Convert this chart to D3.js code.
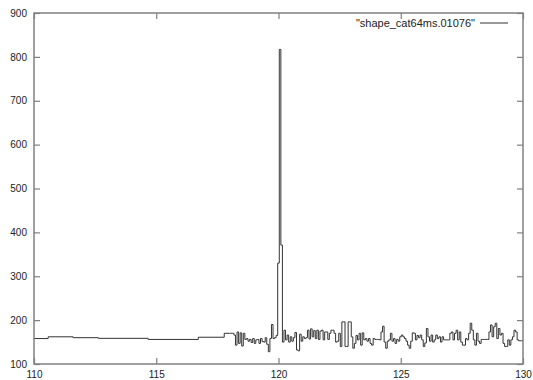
<!DOCTYPE html>
<html>
<head>
<meta charset="utf-8">
<script src="https://cdn.jsdelivr.net/npm/d3@7"></script>
<style>
  html, body { margin: 0; padding: 0; background: #fff; }
  svg { display: block; }
  text { font-family: "Liberation Sans", Arial, sans-serif; }
</style>
</head>
<body>
<svg id="chart" width="533" height="380"></svg>
<script>
// ---- data ----
const seriesName = '"shape_cat64ms.01076"';
const xTicks = [110, 115, 120, 125, 130];
const yTicks = [100, 200, 300, 400, 500, 600, 700, 800, 900];
// coarse segment start times and levels before the fine-binned part
const coarseTimes  = [110, 110.58, 111.6, 112.63, 114.67, 116.72, 117.78];
const coarseValues = [158, 162, 160, 158.5, 156, 161, 170];
// fine 64 ms bins
const fineStart = 117.984;
const binWidth = 0.064;
const fineValues = [
  170,170,170,166,143,173,147,171,141,170,
  156,158,152,156,149,158,147,155,156,147,158,151,
  150,160,145,128,158,190,158,160,165,
  330,817,371,
  150,177,155,166,150,162,152,160,172,132,130,168,152,162,158,160,177,157,180,162,176,158,177,156,175,
  177,155,173,173,156,170,177,177,170,150,152,170,140,196,196,140,140,196,196,162,
  136,147,165,155,170,143,171,155,158,152,158,147,143,158,156,156,156,155,173,186,
  150,136,152,155,170,152,158,147,156,152,162,166,162,158,152,143,136,152,171,170,155,165,
  160,
  166,155,140,148,181,162,152,166,150,155,166,158,162,150,162,155,155,155,
  155,170,173,155,170,177,155,173,150,143,
  143,158,155,170,193,177,155,143,170,152,147,156,156,156,
  156,156,173,189,162,185,193,158,181,166,170,147,140,
  140,155,143,155,162,177,173,155,153,153,153
];

// ---- layout ----
const mLeft = 34, mRight = 523, mTop = 13, mBottom = 364;
const svg = d3.select("#chart");
const x = d3.scaleLinear().domain([110, 130]).range([mLeft, mRight]);
const y = d3.scaleLinear().domain([100, 900]).range([mBottom, mTop]);

// build step points
const pts = coarseTimes.map((t, i) => [t, coarseValues[i]]);
fineValues.forEach((v, i) => pts.push([fineStart + i * binWidth, v]));
pts.push([fineStart + fineValues.length * binWidth, fineValues[fineValues.length - 1]]);

svg.append("defs").append("clipPath").attr("id", "clip")
  .append("rect").attr("x", mLeft).attr("y", mTop)
  .attr("width", mRight - mLeft).attr("height", mBottom - mTop);

const line = d3.line().x(d => x(d[0])).y(d => y(d[1])).curve(d3.curveStepAfter);
svg.append("path").datum(pts)
  .attr("clip-path", "url(#clip)")
  .attr("fill", "none").attr("stroke", "#333").attr("stroke-width", 1)
  .attr("d", line);

// axes (ticks mirrored, inward)
const axisColor = "#808080";
function styleAxis(g) {
  g.select(".domain").remove();
  g.selectAll(".tick line").attr("stroke", axisColor).attr("stroke-width", 1.2);
  g.selectAll(".tick text").attr("fill", "#222").style("font-size", "10px")
    .style("font-family", '"Liberation Sans", Arial, sans-serif');
}
svg.append("g").attr("transform", `translate(0,${mBottom})`)
  .call(d3.axisBottom(x).tickValues(xTicks).tickSize(-6).tickPadding(7).tickFormat(d3.format("d")))
  .call(styleAxis);
svg.append("g").attr("transform", `translate(0,${mTop})`)
  .call(d3.axisTop(x).tickValues(xTicks).tickSize(-6).tickFormat(""))
  .call(styleAxis);
svg.append("g").attr("transform", `translate(${mLeft},0)`)
  .call(d3.axisLeft(y).tickValues(yTicks).tickSize(-6).tickPadding(7).tickFormat(d3.format("d")))
  .call(styleAxis);
svg.append("g").attr("transform", `translate(${mRight},0)`)
  .call(d3.axisRight(y).tickValues(yTicks).tickSize(-6).tickFormat(""))
  .call(styleAxis);

svg.append("rect").attr("x", mLeft).attr("y", mTop)
  .attr("width", mRight - mLeft).attr("height", mBottom - mTop)
  .attr("fill", "none").attr("stroke", axisColor).attr("stroke-width", 1.5);

// legend
svg.append("text").attr("x", 475).attr("y", 23).attr("dy", "0.35em")
  .attr("text-anchor", "end").attr("fill", "#222").style("font-size", "11px")
  .text(seriesName);
svg.append("line").attr("x1", 480).attr("x2", 508).attr("y1", 23).attr("y2", 23)
  .attr("stroke", "#333").attr("stroke-width", 1);
</script>
</body>
</html>
